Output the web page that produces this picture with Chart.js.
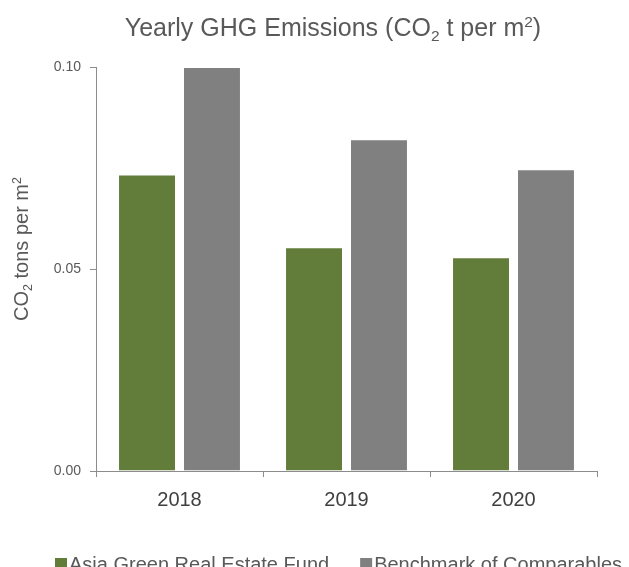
<!DOCTYPE html>
<html>
<head>
<meta charset="utf-8">
<script src="https://cdn.jsdelivr.net/npm/chart.js@4"></script>
<style>
  html, body { margin: 0; padding: 0; overflow: hidden; background: #ffffff; }
  canvas { display: block; }
</style>
</head>
<body>
<canvas id="chart" width="629" height="580"></canvas>
<script>
// Yearly GHG emissions intensity, tonnes CO2 per square metre
const categories = ['2018', '2019', '2020'];
const fundValues = [0.0734, 0.0554, 0.0529];
const benchmarkValues = [0.1000, 0.0821, 0.0747];
const yTickValues = [0.00, 0.05, 0.10];
const seriesNames = ['Asia Green Real Estate Fund', 'Benchmark of Comparables'];
const seriesColors = ['#627d39', '#808080'];

const FONT = '"Liberation Sans", Arial, Helvetica, sans-serif';
const TEXT = '#595959';
const AXIS = '#8c8c8c';

// Writes a run of text pieces, some of them as subscripts or superscripts
function drawRich(ctx, parts, x, y, size, align) {
  const small = size * 0.62;
  const widths = parts.map(([t, k]) => {
    ctx.font = (k ? small : size) + 'px ' + FONT;
    return ctx.measureText(t).width;
  });
  const total = widths.reduce((a, b) => a + b, 0);
  let cx = align === 'center' ? x - total / 2 : x;
  parts.forEach(([t, k], i) => {
    ctx.font = (k ? small : size) + 'px ' + FONT;
    const dy = k === 'sub' ? size * 0.18 : k === 'sup' ? -size * 0.36 : 0;
    ctx.fillText(t, cx, y + dy);
    cx += widths[i];
  });
}

// Title, rotated value-axis title and legend
const decorations = {
  id: 'decorations',
  afterDraw(chart, args, opts) {
    const ctx = chart.ctx;
    ctx.save();
    ctx.textAlign = 'left';
    ctx.textBaseline = 'alphabetic';
    ctx.fillStyle = TEXT;

    drawRich(ctx, [['Yearly GHG Emissions (CO', ''], ['2', 'sub'], [' t per m', ''], ['2', 'sup'], [')', '']],
      opts.titleX, opts.titleY, 25, 'center');

    ctx.save();
    ctx.translate(opts.yTitleX, opts.yTitleY);
    ctx.rotate(-Math.PI / 2);
    drawRich(ctx, [['CO', ''], ['2', 'sub'], [' tons per m', ''], ['2', 'sup']], 0, 0, 20, 'center');
    ctx.restore();

    let x = opts.legendX;
    ctx.font = '20px ' + FONT;
    chart.data.datasets.forEach(ds => {
      ctx.fillStyle = ds.backgroundColor;
      ctx.fillRect(x, opts.legendY - 13, 12, 12);
      x += 14;
      ctx.fillStyle = TEXT;
      ctx.fillText(ds.label, x, opts.legendY);
      x += ctx.measureText(ds.label).width + 31;
    });
    ctx.restore();
  }
};

new Chart(document.getElementById('chart'), {
  type: 'bar',
  data: {
    labels: categories,
    datasets: [
      { label: seriesNames[0], data: fundValues, backgroundColor: seriesColors[0],
        borderColor: 'rgba(255,255,255,0.45)', borderWidth: 1 },
      { label: seriesNames[1], data: benchmarkValues, backgroundColor: seriesColors[1],
        borderColor: 'rgba(255,255,255,0.45)', borderWidth: 1 }
    ]
  },
  options: {
    responsive: false,
    animation: false,
    devicePixelRatio: 1,
    layout: { padding: { top: 67, right: 32, bottom: 0, left: 0 } },
    datasets: { bar: { categoryPercentage: 0.778, barPercentage: 0.892 } },
    plugins: {
      legend: { display: false },
      title: { display: false },
      tooltip: { enabled: false },
      decorations: { titleX: 333, titleY: 36, yTitleX: 28, yTitleY: 249, legendX: 55, legendY: 571 }
    },
    scales: {
      x: {
        afterFit(scale) { scale.height = 580 - 471; },
        grid: { display: true, offset: true, drawOnChartArea: false, drawTicks: true, tickLength: 6, color: AXIS, lineWidth: 1 },
        border: { display: true, color: AXIS, width: 1 },
        ticks: { color: '#404040', font: { family: FONT, size: 20 }, padding: 11 }
      },
      y: {
        min: 0,
        max: 0.1,
        afterFit(scale) { scale.width = 96; },
        afterBuildTicks(scale) { scale.ticks = yTickValues.map(v => ({ value: v })); },
        grid: { display: true, drawOnChartArea: false, drawTicks: true, tickLength: 6, color: AXIS, lineWidth: 1 },
        border: { display: true, color: AXIS, width: 1 },
        ticks: { color: TEXT, font: { family: FONT, size: 14 }, padding: 9,
                 callback: v => Number(v).toFixed(2) }
      }
    }
  },
  plugins: [decorations]
});
</script>
</body>
</html>
